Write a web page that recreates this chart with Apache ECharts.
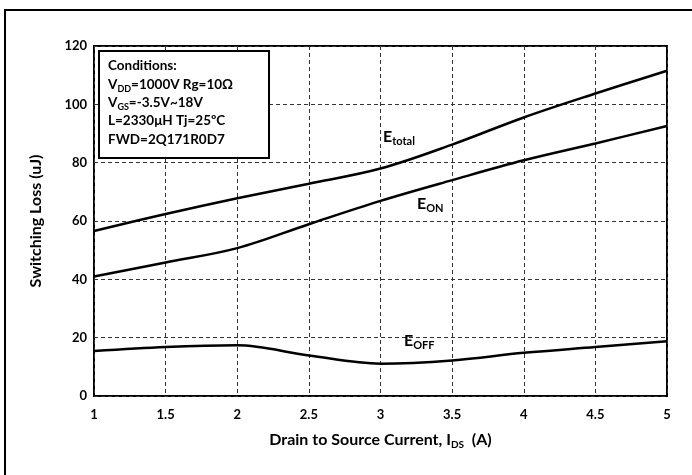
<!DOCTYPE html>
<html><head><meta charset="utf-8">
<script src="https://cdn.jsdelivr.net/npm/echarts@6/dist/echarts.min.js"></script>
<style>html,body{margin:0;padding:0;background:#fff}#c{width:692px;height:475px}</style>
</head><body><div id="c"></div>
<script>
var xs = [1, 1.5, 2, 2.5, 3, 3.5, 4, 4.5, 5];
var eTotal = [56.6, 62.4, 67.8, 72.8, 78.0, 86.2, 95.5, 103.7, 111.5];
var eOn = [41.0, 45.8, 50.7, 58.9, 66.9, 74.0, 80.8, 86.6, 92.6];
var eOff = [15.4, 16.8, 17.4, 13.9, 11.1, 12.2, 14.8, 16.8, 18.8];
var yTicks = [0, 20, 40, 60, 80, 100, 120];
var conditions = ['{a|Conditions:}', '{a|V}{s|DD}{a|=1000V Rg=10Ω}', '{a|V}{s|GS}{a|=-3.5V~18V}', '{a|L=2330μH Tj=25ºC}', '{a|FWD=2Q171R0D7}'];

function pairs(a){ return xs.map(function(x,i){ return [x, a[i]]; }); }
var F = 'Lato, "Open Sans", sans-serif';
var chart = echarts.init(document.getElementById('c'));
var lineStyle = {color:'#000', width:2.5};
function mkSeries(name, arr){
  return {name:name, type:'line', smooth:0.35, symbol:'none', data:pairs(arr), lineStyle:lineStyle, itemStyle:{color:'#000'}, z:3};
}
function richSub(big, small, lh, sublh){
  return {
    a:{fontFamily:F, fontWeight:'bold', fontSize:big, fill:'#000', lineHeight:lh},
    s:{fontFamily:F, fontWeight:'bold', fontSize:small, fill:'#000', lineHeight:sublh, verticalAlign:'bottom'}
  };
}
var condGraphics = conditions.map(function(t, i){
  return {type:'text', x:108, y:57 + i*18.3, z:11, style:{text:t, rich:richSub(13.5, 9, 18, 9)}};
});
function label(x, y, main, sub){
  return {type:'text', x:x, y:y, z:11, style:{text:'{a|'+main+'}{s|'+sub+'}', rich:richSub(16, 11, 20, 10)}};
}
chart.setOption({
  animation:false,
  backgroundColor:'#fff',
  grid:{left:94, right:25, top:46, bottom:79, show:true, borderColor:'#000', borderWidth:2, backgroundColor:'transparent'},
  xAxis:{type:'value', min:1, max:5, interval:0.5,
    axisLine:{show:false}, axisTick:{show:false},
    splitLine:{show:true, lineStyle:{color:'#333', type:[4,3], width:1}},
    axisLabel:{color:'#000', fontFamily:F, fontWeight:'bold', fontSize:13, margin:12},
    name:'{a|Drain to Source Current, I}{s|DS}{a|  (A)}', nameLocation:'middle', nameGap:34,
    nameTextStyle:{rich:{a:{fontFamily:F, fontWeight:'bold', fontSize:16, color:'#000', lineHeight:20}, s:{fontFamily:F, fontWeight:'bold', fontSize:10, color:'#000', lineHeight:10, verticalAlign:'bottom'}}}
  },
  yAxis:{type:'value', min:yTicks[0], max:yTicks[yTicks.length-1], interval:20,
    axisLine:{show:false}, axisTick:{show:false},
    splitLine:{show:true, lineStyle:{color:'#333', type:[4,3], width:1}},
    axisLabel:{color:'#000', fontFamily:F, fontWeight:'bold', fontSize:13, margin:7},
    name:'Switching Loss (uJ)', nameLocation:'middle', nameGap:50,
    nameTextStyle:{fontFamily:F, fontWeight:'bold', fontSize:16, color:'#000'}
  },
  series:[mkSeries('Etotal', eTotal), mkSeries('EON', eOn), mkSeries('EOFF', eOff)],
  graphic:[
    {type:'rect', shape:{x:5, y:10, width:800, height:600}, style:{fill:'none', stroke:'#000', lineWidth:2}, z:10},
    {type:'rect', shape:{x:99, y:51, width:170, height:107}, style:{fill:'#fff', stroke:'#000', lineWidth:2}, z:10},
    label(383, 127, 'E', 'total'),
    label(417, 194, 'E', 'ON'),
    label(404, 331, 'E', 'OFF')
  ].concat(condGraphics)
});
</script></body></html>
